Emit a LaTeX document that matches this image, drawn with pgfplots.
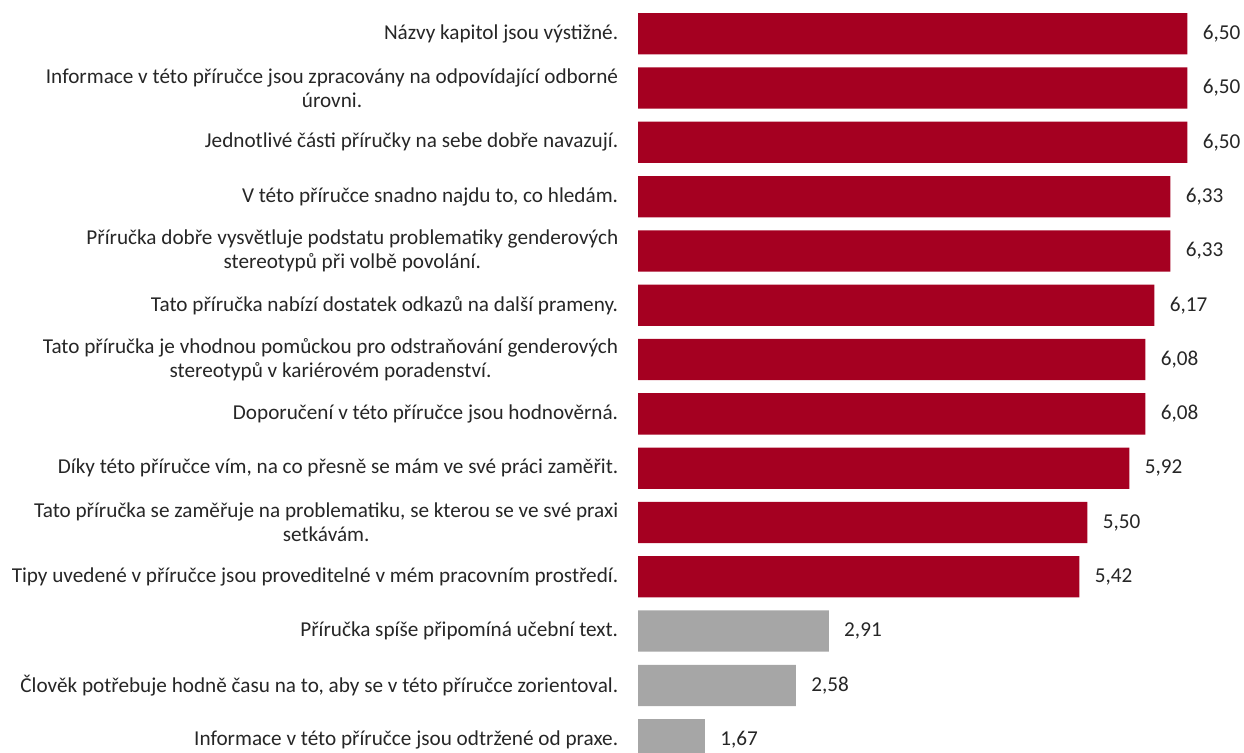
\documentclass[border=0pt]{standalone}
\usepackage{pgfplots}
\pgfplotsset{compat=1.18}
\usepackage{fontspec}
\setmainfont{Carlito}
\definecolor{barred}{HTML}{A50021}
\definecolor{bargray}{HTML}{A6A6A6}
\definecolor{txt}{HTML}{262626}
\begin{document}
\begin{tikzpicture}
\begin{axis}[
  at={(0,0)}, anchor=south west,
  scale only axis,
  width=299.6pt, height=373.2pt,
  xbar, bar shift=0pt, bar width=0.76,
  xmin=1, xmax=7,
  ymin=-0.5, ymax=13.245,
  y dir=reverse,
  clip=true,
  axis line style={draw=none},
  tick style={draw=none},
  xtick=\empty,
  ytick={0,...,13},
  yticklabels={
    {Názvy kapitol jsou výstižné.},
    {Informace v této příručce jsou zpracovány na odpovídající odborné\\úrovni.},
    {Jednotlivé části příručky na sebe dobře navazují.},
    {V této příručce snadno najdu to, co hledám.},
    {Příručka dobře vysvětluje podstatu problematiky genderových\\stereotypů při volbě povolání.},
    {Tato příručka nabízí dostatek odkazů na další prameny.},
    {Tato příručka je vhodnou pomůckou pro odstraňování genderových\\stereotypů v kariérovém poradenství.},
    {Doporučení v této příručce jsou hodnověrná.},
    {Díky této příručce vím, na co přesně se mám ve své práci zaměřit.},
    {Tato příručka se zaměřuje na problematiku, se kterou se ve své praxi\\setkávám.},
    {Tipy uvedené v příručce jsou proveditelné v mém pracovním prostředí.},
    {Příručka spíše připomíná učební text.},
    {Člověk potřebuje hodně času na to, aby se v této příručce zorientoval.},
    {Informace v této příručce jsou odtržené od praxe.}
  },
  yticklabel style={align=center, inner sep=0pt, xshift=-5.5pt,
    font=\fontsize{10.6pt}{12pt}\selectfont, text=txt},
  nodes near coords,
  nodes near coords style={font=\fontsize{10.6pt}{12pt}\selectfont, text=txt,
    inner sep=0pt, xshift=7.5pt, anchor=west,
    /pgf/number format/.cd, fixed, fixed zerofill, precision=2, use comma, assume math mode=true},
  every axis plot/.append style={draw=none},
]
\addplot[fill=barred] coordinates {
  (6.50,0) (6.50,1) (6.50,2) (6.33,3) (6.33,4) (6.17,5) (6.08,6) (6.08,7)
  (5.92,8) (5.50,9) (5.42,10)
};
\addplot[fill=bargray] coordinates {
  (2.91,11) (2.58,12) (1.67,13)
};
\end{axis}
\pgfresetboundingbox
\useasboundingbox (-319.05pt,0pt) rectangle (302.95pt,376.5pt);
\end{tikzpicture}
\end{document}
